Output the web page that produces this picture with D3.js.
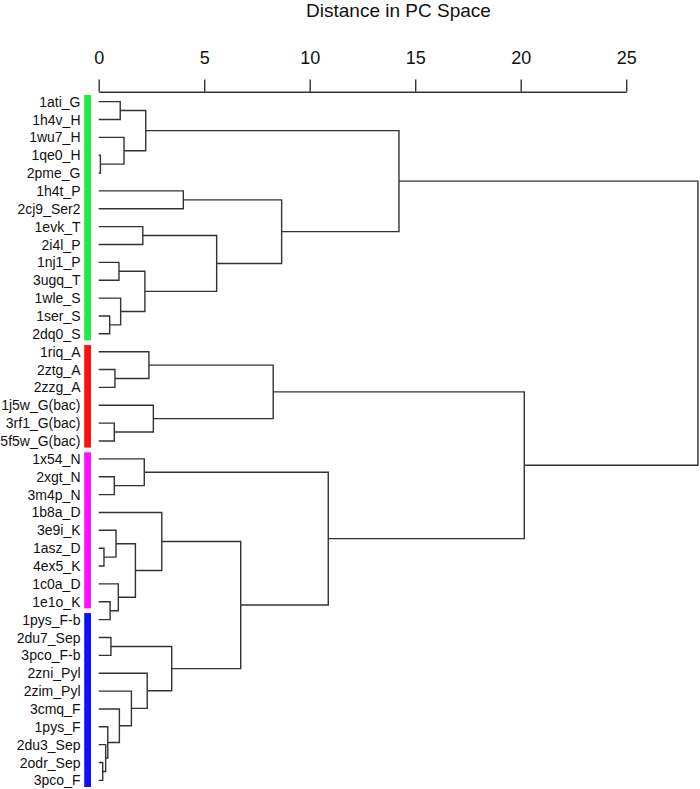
<!DOCTYPE html>
<html>
<head>
<meta charset="utf-8">
<script src="https://cdn.jsdelivr.net/npm/d3@7"></script>
<style>
  html, body { margin: 0; padding: 0; background: #fff; }
  svg { display: block; }
</style>
</head>
<body>
<svg id="chart" width="700" height="789"></svg>
<script>
// ---- data ----
const leaves = [
  "1ati_G","1h4v_H","1wu7_H","1qe0_H","2pme_G","1h4t_P","2cj9_Ser2","1evk_T","2i4l_P",
  "1nj1_P","3ugq_T","1wle_S","1ser_S","2dq0_S",
  "1riq_A","2ztg_A","2zzg_A","1j5w_G(bac)","3rf1_G(bac)","5f5w_G(bac)",
  "1x54_N","2xgt_N","3m4p_N","1b8a_D","3e9i_K","1asz_D","4ex5_K","1c0a_D","1e1o_K",
  "1pys_F-b","2du7_Sep","3pco_F-b","2zni_Pyl","2zim_Pyl","3cmq_F","1pys_F","2du3_Sep","2odr_Sep","3pco_F"
];
const groupSizes = [14, 6, 9, 10];
const groupColors = ["#22e84a", "#ff1010", "#ff10ff", "#1010ff"];

// merges, R style: negative = leaf (1-based), positive = merge row (1-based)
const mergeLeft  = [-1,-4,-3, 1,-6,-8,-10,-13,-12, 7, 6, 5, 4,
                    -16,-15,-19,-18,15,
                    -22,-21,-26,-25,-29,-28,22,-24,
                    -31,-38,-37,-36,-35,-34,-33,27,26,20,18,13];
const mergeRight = [-2,-5, 2, 3,-7,-9,-11,-14, 8, 9,10,11,12,
                    -17,14,-20,16,17,
                    -23,19,-27,21,-30,23,24,25,
                    -32,-39,28,29,30,31,32,33,34,35,36,37];
const mergeHeight = [1.02,0.08,1.20,2.23,4.01,2.09,0.96,0.52,1.04,2.19,5.59,8.67,14.23,
                     0.77,2.38,0.74,2.59,8.27,
                     0.74,2.16,0.25,0.82,0.54,0.93,1.74,2.99,
                     0.58,0.19,0.33,0.43,0.98,1.55,2.30,3.46,6.73,10.88,20.17,28.40];
const axisTicks = [0, 5, 10, 15, 20, 25];
const axisTitle = "Distance in PC Space";

// ---- scales ----
const x = d3.scaleLinear().domain([0, 25]).range([98.7, 626.2]);
const y = d3.scalePoint().domain(d3.range(leaves.length)).range([101.6, 780.4]);

const svg = d3.select("#chart");
const font = "'Liberation Sans', Arial, Helvetica, sans-serif";
const lineColor = "#333";

// ---- axis ----
const axisY = 91.7;
const axisG = svg.append("g")
  .attr("transform", `translate(0,${axisY})`)
  .call(d3.axisTop(x).tickValues(axisTicks).tickSize(12.3).tickSizeOuter(0).tickPadding(15)
        .tickFormat(d3.format("d")));
axisG.select(".domain").attr("stroke", lineColor).attr("stroke-width", 1.4);
axisG.selectAll(".tick line").attr("stroke", lineColor).attr("stroke-width", 1.4);
axisG.selectAll(".tick text").attr("fill", "#111")
  .style("font-family", font).style("font-size", "18px");

svg.append("text")
  .attr("x", 398.5).attr("y", 16.5)
  .attr("text-anchor", "middle")
  .style("font-family", font).style("font-size", "19px").attr("fill", "#111")
  .text(axisTitle);

// ---- leaf labels ----
svg.append("g").selectAll("text").data(leaves).join("text")
  .attr("x", 80.5)
  .attr("y", (d, i) => y(i))
  .attr("dy", "0.36em")
  .attr("text-anchor", "end")
  .style("font-family", font).style("font-size", "14px").attr("fill", "#111")
  .text(d => d);

// ---- group colour bars ----
let start = 0;
const bars = groupSizes.map((n, g) => {
  const b = { first: start, last: start + n - 1, color: groupColors[g] };
  start += n;
  return b;
});
svg.append("g").selectAll("rect").data(bars).join("rect")
  .attr("x", 84.2).attr("width", 6.8)
  .attr("y", d => y(d.first) - 6.6)
  .attr("height", d => y(d.last) - y(d.first) + 13.2)
  .attr("fill", d => d.color);

// ---- dendrogram ----
const nodeY = [];
function refPos(r) {
  if (r < 0) return { x: x(0), y: y(-r - 1) };
  return { x: x(mergeHeight[r - 1]), y: nodeY[r - 1] };
}
const paths = [];
for (let i = 0; i < mergeHeight.length; i++) {
  const a = refPos(mergeLeft[i]);
  const b = refPos(mergeRight[i]);
  const hx = x(mergeHeight[i]);
  nodeY[i] = (a.y + b.y) / 2;
  paths.push(`M${a.x},${a.y}H${hx}V${b.y}H${b.x}`);
}
svg.append("g").selectAll("path").data(paths).join("path")
  .attr("d", d => d)
  .attr("fill", "none")
  .attr("stroke", lineColor)
  .attr("stroke-width", 1.4);
</script>
</body>
</html>
